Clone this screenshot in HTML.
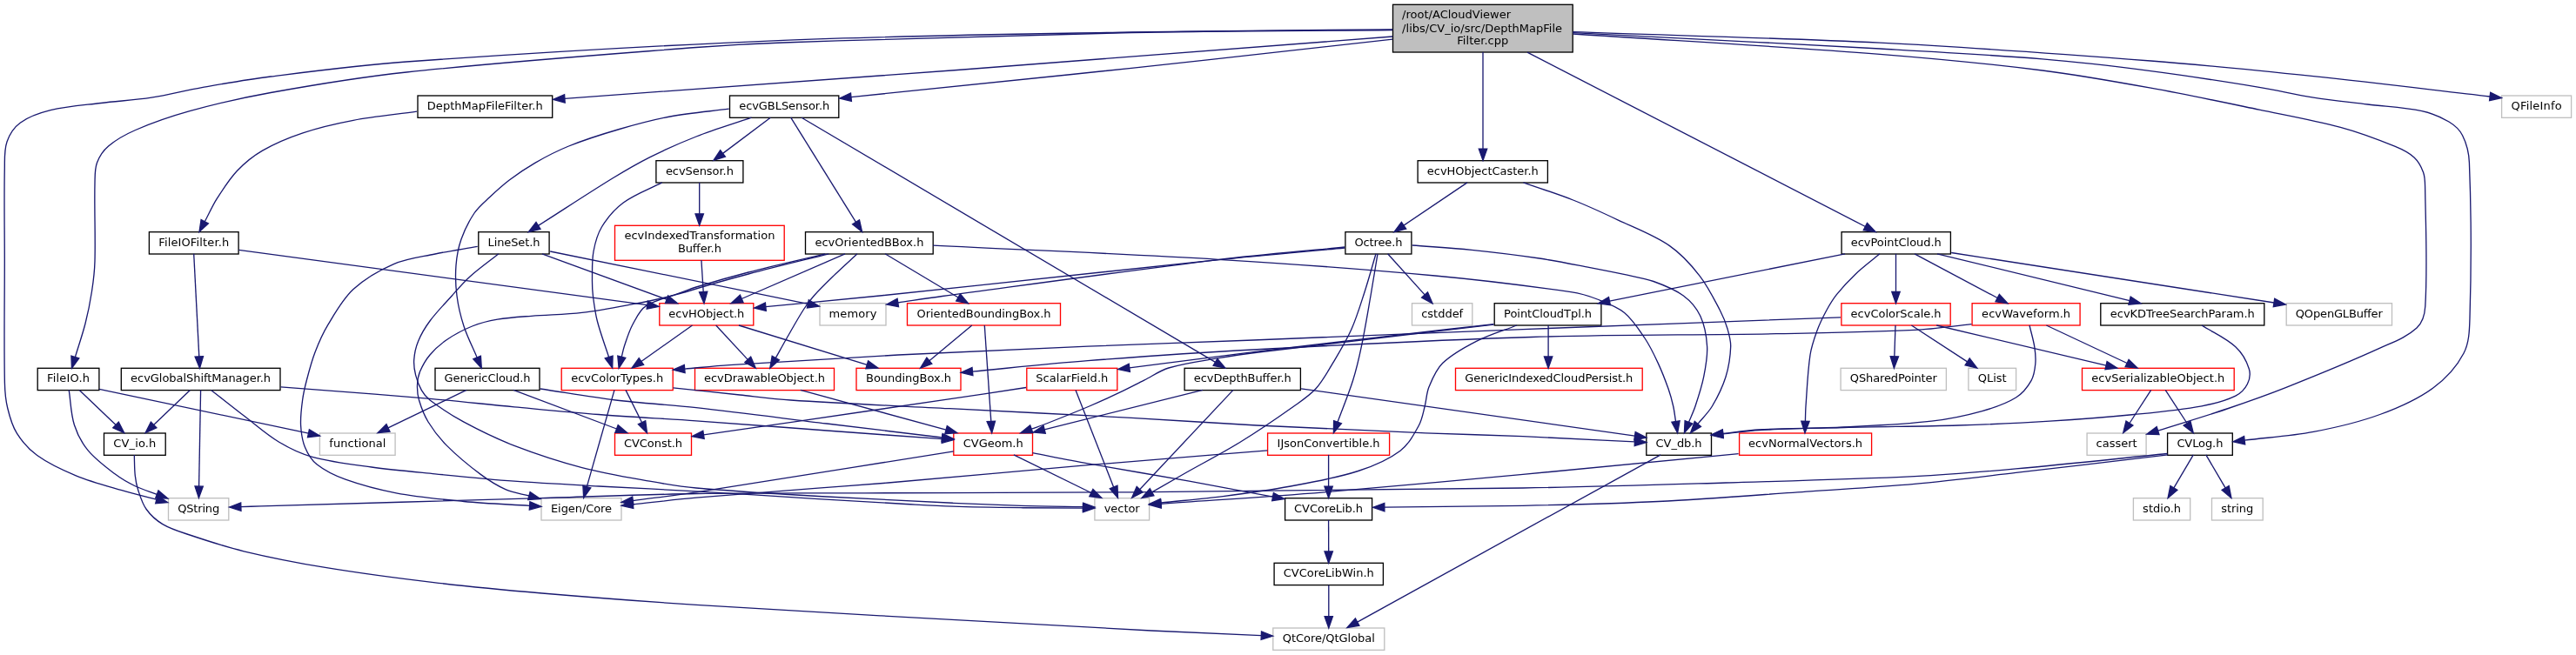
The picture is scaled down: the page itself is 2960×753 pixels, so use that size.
<!DOCTYPE html><html><head><meta charset="utf-8"><title>DepthMapFileFilter.cpp include graph</title><style>html,body{margin:0;padding:0;background:#fff}svg{display:block;will-change:transform}</style></head><body><svg width="2960" height="753" viewBox="0 0 2960 753">
<rect width="2960" height="753" fill="#fff"/>
<g stroke-width="1.33">
<rect x="1600.5" y="5.3" width="206.7" height="54.7" fill="#bfbfbf" stroke="#000"/>
<rect x="480.0" y="110.0" width="154.7" height="25.3" fill="#fff" stroke="#000"/>
<rect x="838.5" y="110.0" width="125.3" height="25.3" fill="#fff" stroke="#000"/>
<rect x="2874.6" y="110.0" width="80.0" height="25.3" fill="#fff" stroke="#bfbfbf"/>
<rect x="753.9" y="184.7" width="100.0" height="25.3" fill="#fff" stroke="#000"/>
<rect x="1629.1" y="184.7" width="149.3" height="25.3" fill="#fff" stroke="#000"/>
<rect x="171.4" y="266.7" width="102.7" height="25.3" fill="#fff" stroke="#000"/>
<rect x="549.8" y="266.7" width="81.3" height="25.3" fill="#fff" stroke="#000"/>
<rect x="706.5" y="259.3" width="194.7" height="40.0" fill="#fff" stroke="#f00"/>
<rect x="925.5" y="266.7" width="146.7" height="25.3" fill="#fff" stroke="#000"/>
<rect x="1545.9" y="266.7" width="76.0" height="25.3" fill="#fff" stroke="#000"/>
<rect x="2116.1" y="266.7" width="125.3" height="25.3" fill="#fff" stroke="#000"/>
<rect x="757.8" y="348.7" width="108.0" height="25.3" fill="#fff" stroke="#f00"/>
<rect x="942.0" y="348.7" width="76.0" height="25.3" fill="#fff" stroke="#bfbfbf"/>
<rect x="1042.5" y="348.7" width="176.0" height="25.3" fill="#fff" stroke="#f00"/>
<rect x="1622.5" y="348.7" width="69.3" height="25.3" fill="#fff" stroke="#bfbfbf"/>
<rect x="1717.2" y="348.7" width="122.7" height="25.3" fill="#fff" stroke="#000"/>
<rect x="2115.9" y="348.7" width="125.3" height="25.3" fill="#fff" stroke="#f00"/>
<rect x="2266.1" y="348.7" width="124.0" height="25.3" fill="#fff" stroke="#f00"/>
<rect x="2413.8" y="348.7" width="188.0" height="25.3" fill="#fff" stroke="#000"/>
<rect x="2627.2" y="348.7" width="121.3" height="25.3" fill="#fff" stroke="#bfbfbf"/>
<rect x="43.2" y="423.3" width="70.7" height="25.3" fill="#fff" stroke="#000"/>
<rect x="139.3" y="423.3" width="182.7" height="25.3" fill="#fff" stroke="#000"/>
<rect x="500.0" y="423.3" width="120.0" height="25.3" fill="#fff" stroke="#000"/>
<rect x="645.2" y="423.3" width="128.0" height="25.3" fill="#fff" stroke="#f00"/>
<rect x="798.5" y="423.3" width="160.0" height="25.3" fill="#fff" stroke="#f00"/>
<rect x="984.0" y="423.3" width="120.0" height="25.3" fill="#fff" stroke="#f00"/>
<rect x="1179.8" y="423.3" width="104.0" height="25.3" fill="#fff" stroke="#f00"/>
<rect x="1361.1" y="423.3" width="133.3" height="25.3" fill="#fff" stroke="#000"/>
<rect x="1672.5" y="423.3" width="214.7" height="25.3" fill="#fff" stroke="#f00"/>
<rect x="2115.1" y="423.3" width="121.3" height="25.3" fill="#fff" stroke="#bfbfbf"/>
<rect x="2261.9" y="423.3" width="54.7" height="25.3" fill="#fff" stroke="#bfbfbf"/>
<rect x="2392.5" y="423.3" width="174.7" height="25.3" fill="#fff" stroke="#f00"/>
<rect x="119.5" y="498.0" width="70.7" height="25.3" fill="#fff" stroke="#000"/>
<rect x="367.4" y="498.0" width="86.7" height="25.3" fill="#fff" stroke="#bfbfbf"/>
<rect x="706.5" y="498.0" width="88.0" height="25.3" fill="#fff" stroke="#f00"/>
<rect x="1095.8" y="498.0" width="90.7" height="25.3" fill="#fff" stroke="#f00"/>
<rect x="1456.6" y="498.0" width="140.0" height="25.3" fill="#fff" stroke="#f00"/>
<rect x="1891.8" y="498.0" width="74.7" height="25.3" fill="#fff" stroke="#000"/>
<rect x="1998.6" y="498.0" width="152.0" height="25.3" fill="#fff" stroke="#f00"/>
<rect x="2398.1" y="498.0" width="68.0" height="25.3" fill="#fff" stroke="#bfbfbf"/>
<rect x="2490.6" y="498.0" width="74.7" height="25.3" fill="#fff" stroke="#000"/>
<rect x="193.5" y="572.7" width="69.3" height="25.3" fill="#fff" stroke="#bfbfbf"/>
<rect x="622.0" y="572.7" width="92.0" height="25.3" fill="#fff" stroke="#bfbfbf"/>
<rect x="1257.9" y="572.7" width="62.7" height="25.3" fill="#fff" stroke="#bfbfbf"/>
<rect x="1476.6" y="572.7" width="100.0" height="25.3" fill="#fff" stroke="#000"/>
<rect x="2451.4" y="572.7" width="65.3" height="25.3" fill="#fff" stroke="#bfbfbf"/>
<rect x="2541.5" y="572.7" width="58.7" height="25.3" fill="#fff" stroke="#bfbfbf"/>
<rect x="1464.1" y="647.3" width="125.3" height="25.3" fill="#fff" stroke="#000"/>
<rect x="1462.8" y="722.0" width="128.0" height="25.3" fill="#fff" stroke="#bfbfbf"/>
</g>
<g font-family="'DejaVu Sans','Liberation Sans',sans-serif" font-size="13" fill="#000" text-anchor="middle">
<text x="1611.1" y="21" text-anchor="start" textLength="125.0">/root/ACloudViewer</text>
<text x="1611.1" y="37" text-anchor="start" textLength="184.0">/libs/CV_io/src/DepthMapFile</text>
<text x="1703.8" y="51" textLength="59.0">Filter.cpp</text>
<text x="557.3" y="126" textLength="133.0">DepthMapFileFilter.h</text>
<text x="901.2" y="126" textLength="104.0">ecvGBLSensor.h</text>
<text x="2914.6" y="126" textLength="58.0">QFileInfo</text>
<text x="803.9" y="201" textLength="78.0">ecvSensor.h</text>
<text x="1703.8" y="201" textLength="128.0">ecvHObjectCaster.h</text>
<text x="222.7" y="283" textLength="81.0">FileIOFilter.h</text>
<text x="590.5" y="283" textLength="60.0">LineSet.h</text>
<text x="803.9" y="275" textLength="173.0">ecvIndexedTransformation</text>
<text x="803.9" y="290" textLength="50.0">Buffer.h</text>
<text x="998.9" y="283" textLength="125.0">ecvOrientedBBox.h</text>
<text x="1583.9" y="283" textLength="55.0">Octree.h</text>
<text x="2178.8" y="283" textLength="104.0">ecvPointCloud.h</text>
<text x="811.8" y="365" textLength="87.0">ecvHObject.h</text>
<text x="980.0" y="365" textLength="55.0">memory</text>
<text x="1130.5" y="365" textLength="154.0">OrientedBoundingBox.h</text>
<text x="1657.2" y="365" textLength="48.0">cstddef</text>
<text x="1778.6" y="365" textLength="101.0">PointCloudTpl.h</text>
<text x="2178.6" y="365" textLength="104.0">ecvColorScale.h</text>
<text x="2328.1" y="365" textLength="102.0">ecvWaveform.h</text>
<text x="2507.8" y="365" textLength="166.0">ecvKDTreeSearchParam.h</text>
<text x="2687.8" y="365" textLength="100.0">QOpenGLBuffer</text>
<text x="78.5" y="439" textLength="49.0">FileIO.h</text>
<text x="230.6" y="439" textLength="161.0">ecvGlobalShiftManager.h</text>
<text x="560.0" y="439" textLength="99.0">GenericCloud.h</text>
<text x="709.2" y="439" textLength="106.0">ecvColorTypes.h</text>
<text x="878.5" y="439" textLength="139.0">ecvDrawableObject.h</text>
<text x="1044.0" y="439" textLength="98.0">BoundingBox.h</text>
<text x="1231.8" y="439" textLength="83.0">ScalarField.h</text>
<text x="1427.8" y="439" textLength="112.0">ecvDepthBuffer.h</text>
<text x="1779.8" y="439" textLength="193.0">GenericIndexedCloudPersist.h</text>
<text x="2175.8" y="439" textLength="100.0">QSharedPointer</text>
<text x="2289.2" y="439" textLength="33.0">QList</text>
<text x="2479.8" y="439" textLength="153.0">ecvSerializableObject.h</text>
<text x="154.8" y="514" textLength="49.0">CV_io.h</text>
<text x="410.8" y="514" textLength="65.0">functional</text>
<text x="750.5" y="514" textLength="67.0">CVConst.h</text>
<text x="1141.2" y="514" textLength="69.0">CVGeom.h</text>
<text x="1526.6" y="514" textLength="118.0">IJsonConvertible.h</text>
<text x="1929.1" y="514" textLength="53.0">CV_db.h</text>
<text x="2074.6" y="514" textLength="131.0">ecvNormalVectors.h</text>
<text x="2432.1" y="514" textLength="47.0">cassert</text>
<text x="2527.9" y="514" textLength="53.0">CVLog.h</text>
<text x="228.2" y="589" textLength="48.0">QString</text>
<text x="668.0" y="589" textLength="70.0">Eigen/Core</text>
<text x="1289.2" y="589" textLength="41.0">vector</text>
<text x="1526.6" y="589" textLength="79.0">CVCoreLib.h</text>
<text x="2484.1" y="589" textLength="44.0">stdio.h</text>
<text x="2570.8" y="589" textLength="37.0">string</text>
<text x="1526.8" y="663" textLength="104.0">CVCoreLibWin.h</text>
<text x="1526.8" y="738" textLength="106.0">QtCore/QtGlobal</text>
</g>
<g fill="none" stroke="#191970" stroke-width="1.33">
<path d="M1600.2,33.8C1500.1,34.9 1400.1,35.2 1300.0,37.0C1166.7,39.4 1033.3,40.9 900.0,46.3C755.6,52.2 611.2,60.8 467.0,71.0C414.8,74.7 362.9,81.5 311.0,88.0C284.5,91.3 258.3,96.0 232.0,100.6C212.6,104.0 193.5,109.2 174.0,112.2C154.8,115.2 135.3,116.1 116.0,118.5C96.6,120.9 77.0,122.1 58.0,126.7C45.8,129.7 33.4,133.8 23.2,141.2C16.0,146.4 10.9,154.6 8.0,163.0C4.7,172.6 5.5,183.2 5.3,193.4C4.6,228.9 5.3,264.5 5.3,300.0C5.3,346.7 4.5,393.3 5.4,440.0C5.6,449.7 6.4,459.5 8.7,469.0C11.1,479.1 13.9,489.4 19.4,498.2C25.5,507.9 33.4,516.8 42.7,523.5C56.3,533.3 71.8,540.4 87.3,546.8C104.3,553.8 122.3,558.5 140.0,563.7C153.2,567.6 166.6,570.8 179.9,574.3"/>
<path d="M1600.2,34.5C1500.1,35.5 1400.1,35.4 1300.0,37.5C1166.6,40.3 1033.3,44.5 900.0,49.0C866.6,50.1 833.3,51.9 800.0,54.5C688.9,63.2 577.8,71.2 467.0,83.0C414.7,88.6 362.8,97.2 311.0,106.5C279.7,112.1 248.6,119.2 218.0,127.7C196.8,133.6 175.9,140.8 155.7,149.5C144.6,154.3 133.8,160.2 124.6,168.0C118.7,173.0 114.2,179.8 111.5,187.0C108.8,194.2 109.2,202.3 109.0,210.0C108.3,240.0 109.8,270.0 109.0,300.0C108.7,311.7 107.3,323.4 105.5,335.0C103.6,347.4 101.1,359.8 98.0,372.0C94.7,385.0 90.2,397.6 86.4,410.4"/>
<path d="M1600.2,42.0C1433.5,54.8 1266.8,68.0 1100.0,80.5C949.7,91.8 799.3,102.4 648.9,113.3"/>
<path d="M1600.2,45.2C1500.1,56.2 1400.1,67.6 1300.0,78.3C1192.7,89.8 1085.3,100.5 978.0,111.6"/>
<path d="M1704.0,60.1L1704.0,171.1"/>
<path d="M1755.0,60.1L2143.4,260.5"/>
<path d="M1807.4,36.7C1924.9,40.9 2042.5,43.3 2160.0,49.2C2263.9,54.4 2367.7,62.0 2471.4,70.0C2533.8,74.8 2596.1,81.2 2658.3,87.7C2726.0,94.8 2793.5,103.2 2861.2,111.0"/>
<path d="M1807.4,37.7C1924.9,43.8 2042.5,49.4 2160.0,56.0C2222.3,59.5 2284.7,62.8 2346.9,67.9C2388.5,71.3 2430.0,76.2 2471.4,81.6C2513.0,87.0 2554.5,93.5 2596.0,100.3C2616.9,103.7 2637.4,108.8 2658.3,112.1C2679.0,115.4 2699.8,117.4 2720.6,120.0C2741.4,122.6 2762.4,123.3 2782.9,127.7C2793.8,130.0 2804.4,134.3 2814.0,140.0C2820.3,143.8 2826.3,149.1 2829.6,155.7C2834.4,165.3 2837.0,176.3 2837.4,187.0C2839.8,246.3 2839.8,305.7 2838.0,365.0C2837.6,379.0 2837.4,393.9 2830.9,406.3C2822.7,422.0 2810.1,435.6 2795.8,446.0C2777.4,459.4 2756.1,468.7 2734.7,476.5C2710.0,485.6 2684.2,491.5 2658.4,496.4C2632.2,501.4 2605.6,502.9 2579.1,506.2"/>
<path d="M1807.4,39.0C1924.9,46.8 2042.6,53.2 2160.0,62.3C2222.4,67.2 2284.8,73.2 2346.9,81.0C2388.6,86.2 2430.0,93.7 2471.4,101.2C2513.1,108.7 2554.5,117.5 2596.0,126.1C2627.2,132.6 2658.6,138.1 2689.4,146.4C2710.6,152.1 2731.3,159.9 2751.7,168.2C2759.6,171.4 2767.7,175.2 2774.0,181.0C2778.9,185.5 2782.2,191.8 2784.5,198.0C2786.5,203.4 2786.5,209.3 2786.6,215.0C2787.3,260.7 2789.5,306.4 2786.8,352.0C2786.3,360.9 2783.6,370.9 2777.0,377.0C2765.2,387.9 2749.3,393.5 2734.7,400.2C2699.3,416.4 2663.2,431.0 2627.0,445.4C2604.6,454.3 2581.8,462.3 2559.0,470.0C2532.7,478.9 2506.1,486.7 2479.6,495.1"/>
<path d="M479.0,128.2C454.7,131.6 430.1,133.8 406.0,138.3C386.4,142.0 366.9,146.5 348.0,152.8C332.0,158.1 316.2,164.7 301.6,173.1C290.9,179.3 281.1,187.3 272.6,196.3C263.6,205.8 256.5,217.1 249.4,228.2C244.0,236.7 240.0,246.0 235.3,254.8"/>
<path d="M274.4,287.4L743.8,350.6"/>
<path d="M222.7,291.8L228.8,409.9"/>
<path d="M218.4,448.4L176.6,488.5"/>
<path d="M230.6,448.4L228.6,559.1"/>
<path d="M242.6,448.4C255.5,458.5 268.4,468.8 281.4,478.8C294.3,488.7 306.4,499.7 320.3,508.0C332.4,515.3 345.4,521.7 359.0,525.4C381.2,531.4 404.2,533.9 427.0,537.0C451.2,540.3 475.6,542.4 500.0,544.8C530.3,547.8 560.6,550.9 591.0,553.2C623.3,555.6 655.7,557.2 688.0,559.0C725.3,561.1 762.7,562.6 800.0,564.8C846.7,567.5 893.3,570.8 940.0,573.6C971.0,575.5 1002.0,577.3 1033.0,579.0C1053.7,580.1 1074.3,581.5 1095.0,582.2C1121.0,583.1 1147.0,583.4 1173.0,583.7C1196.8,584.0 1220.6,584.0 1244.5,584.1"/>
<path d="M322.6,444.8C379.7,449.3 436.9,453.5 494.0,458.4C526.4,461.2 558.7,464.8 591.0,467.8C623.3,470.8 655.6,474.0 688.0,476.5C725.3,479.4 762.7,481.2 800.0,483.8C850.0,487.3 900.0,491.3 950.0,495.0C994.2,498.3 1038.3,501.4 1082.5,504.6"/>
<path d="M91.2,448.4L133.1,488.5"/>
<path d="M79.2,448.4C81.3,461.8 81.3,475.6 85.4,488.5C88.7,499.0 94.0,509.1 101.0,517.6C109.8,528.2 121.0,536.5 132.0,544.8C139.3,550.4 147.4,555.0 155.7,559.0C163.6,562.8 172.1,565.2 180.3,568.3"/>
<path d="M114.0,447.3L354.5,498.2"/>
<path d="M154.3,522.9C154.6,530.9 154.4,538.9 155.3,546.8C155.9,552.5 157.0,558.2 158.8,563.7C161.3,571.2 163.6,579.1 168.2,585.5C173.1,592.3 179.6,598.3 186.9,602.6C196.5,608.3 207.4,611.5 218.0,615.0C238.6,621.9 259.2,628.7 280.3,633.8C311.2,641.2 342.4,647.3 373.7,652.4C415.1,659.2 456.7,664.7 498.3,669.6C539.7,674.5 581.3,678.4 622.9,682.0C681.9,687.0 740.9,691.5 800.0,695.4C870.4,700.1 940.9,703.8 1011.4,707.8C1115.2,713.7 1219.0,719.6 1322.8,725.0C1364.9,727.2 1407.1,728.7 1449.3,730.6"/>
<path d="M837.7,125.2C815.1,128.1 792.4,129.9 770.0,134.0C750.3,137.6 730.9,142.9 711.7,148.5C692.1,154.2 672.5,160.4 653.5,168.0C640.1,173.4 627.2,180.1 614.7,187.3C604.6,193.1 594.9,199.7 585.6,206.8C577.4,213.0 569.8,220.0 562.3,227.0C556.2,232.7 549.6,238.1 545.0,245.0C538.8,254.3 533.7,264.4 530.0,275.0C526.6,284.6 524.8,294.8 524.0,305.0C523.1,316.6 523.5,328.4 525.0,340.0C526.5,351.9 529.3,363.6 533.0,375.0C537.0,387.4 543.1,398.9 548.1,410.9"/>
<path d="M863.5,135.2C842.3,142.5 820.9,148.9 800.0,157.0C782.0,164.0 764.3,172.0 747.0,180.6C732.2,188.0 717.9,196.4 703.8,205.0C675.1,222.6 647.0,241.3 618.5,259.4"/>
<path d="M885.3,135.2L830.6,176.4"/>
<path d="M908.7,135.2L983.5,255.3"/>
<path d="M921.1,135.2L1396.5,416.4"/>
<path d="M803.7,209.9L803.7,245.8"/>
<path d="M760.7,209.9C745.9,217.6 729.7,223.1 716.3,233.0C706.2,240.4 697.9,250.3 691.4,261.0C686.3,269.4 683.8,279.3 682.0,289.0C680.1,299.2 680.6,309.7 680.5,320.0C680.4,326.7 680.6,333.4 681.4,340.0C682.6,349.7 683.8,359.5 686.3,369.0C689.9,383.1 695.2,396.7 699.6,410.5"/>
<path d="M805.9,299.0L808.2,335.5"/>
<path d="M622.9,291.8L766.1,344.2"/>
<path d="M632.2,289.0L928.3,349.3"/>
<path d="M548.7,283.4C532.5,286.3 516.1,288.6 500.0,292.0C484.0,295.4 467.4,297.1 452.4,303.6C435.7,310.8 419.4,320.2 406.0,332.6C393.8,343.9 385.6,359.0 377.0,373.2C370.9,383.2 366.2,394.1 362.0,405.0C358.0,415.4 355.2,426.2 352.4,437.0C350.4,444.6 348.6,452.2 347.6,460.0C346.3,469.6 345.1,479.3 345.6,489.0C346.1,497.6 347.2,506.4 350.5,514.3C353.5,521.6 357.8,528.9 364.0,533.8C373.7,541.5 385.3,547.0 397.0,551.2C415.9,558.0 435.5,563.1 455.3,566.8C481.0,571.6 507.0,574.0 533.0,576.5C558.1,578.9 583.4,579.8 608.6,581.4"/>
<path d="M573.0,291.8C562.0,300.5 550.5,308.6 540.0,318.0C532.5,324.7 526.0,332.5 519.3,340.0C510.7,349.5 501.6,358.7 494.0,369.0C488.6,376.2 483.9,384.1 480.5,392.4C477.7,399.2 476.2,406.5 475.7,413.8C475.3,419.6 476.2,425.5 477.6,431.2C479.1,437.3 481.3,443.3 484.4,448.7C486.8,453.0 490.0,457.0 494.0,460.0C506.4,469.3 519.4,477.8 533.0,485.2C551.8,495.3 571.1,504.7 591.0,512.4C616.4,522.2 642.4,530.7 668.8,537.6C694.3,544.3 720.4,548.6 746.4,553.2C764.2,556.4 782.0,559.4 800.0,561.0C846.6,565.2 893.3,567.8 940.0,570.5C991.6,573.5 1043.3,575.9 1095.0,578.3C1121.0,579.5 1147.0,580.6 1173.0,581.4C1196.8,582.1 1220.6,582.3 1244.5,582.7"/>
<path d="M971.0,291.8L852.2,343.5"/>
<path d="M952.3,291.8C921.5,299.5 890.7,306.8 860.0,315.0C836.5,321.2 813.2,327.8 790.0,335.0C774.0,340.0 756.9,342.9 742.5,351.6C735.0,356.1 731.2,365.3 727.0,373.0C722.7,380.9 720.2,389.7 717.3,398.2C716.0,402.1 715.3,406.2 714.3,410.3"/>
<path d="M948.0,291.8C918.7,298.9 889.2,305.5 860.0,313.0C839.9,318.2 819.9,323.9 800.0,330.0C790.4,332.9 781.4,337.4 771.7,340.0C757.0,344.0 742.0,346.9 727.0,349.7C707.7,353.3 688.3,357.1 668.8,359.4C649.5,361.7 630.0,361.7 610.6,363.3C597.6,364.3 584.5,365.0 571.7,367.2C561.8,368.9 551.9,371.3 542.6,375.0C532.4,379.1 522.6,384.3 513.5,390.5C506.3,395.4 499.6,401.3 494.0,408.0C489.2,413.7 485.4,420.4 482.5,427.3C480.5,432.2 479.7,437.6 479.5,442.9C479.3,448.6 479.9,454.5 481.5,460.0C484.1,468.7 487.3,477.3 492.0,485.0C498.1,494.9 505.3,504.2 513.5,512.4C525.5,524.4 538.7,535.3 552.3,545.4C561.4,552.2 571.1,558.3 581.4,562.9C589.8,566.6 599.1,567.7 607.9,570.0"/>
<path d="M985.0,291.8C976.7,299.5 968.2,307.1 960.0,315.0C951.6,323.2 943.1,331.3 935.3,340.0C931.0,344.8 927.1,350.1 923.6,355.5C916.7,366.2 910.6,377.4 904.2,388.5C899.8,396.1 895.6,403.9 891.3,411.6"/>
<path d="M1017.0,291.8L1101.1,342.0"/>
<path d="M1072.2,282.2C1181.5,287.6 1290.8,291.7 1400.0,298.3C1483.1,303.3 1566.1,309.3 1649.0,317.0C1701.1,321.8 1753.1,328.2 1804.9,335.7C1815.3,337.2 1825.6,340.2 1835.4,344.0C1846.2,348.2 1857.5,352.1 1866.5,359.4C1876.1,367.3 1882.9,378.2 1889.8,388.5C1895.9,397.6 1900.7,407.6 1905.3,417.6C1909.7,427.1 1913.5,436.9 1917.0,446.8C1919.3,453.4 1921.2,460.2 1922.7,467.0C1924.0,472.8 1924.6,478.7 1925.5,484.5"/>
<path d="M795.5,374.0L736.9,415.5"/>
<path d="M822.7,374.0L859.2,413.4"/>
<path d="M848.9,374.0L996.3,419.3"/>
<path d="M1116.8,374.0L1067.9,414.7"/>
<path d="M1131.3,374.0L1138.8,484.4"/>
<path d="M719.0,448.4L737.6,485.8"/>
<path d="M706.0,448.4L674.3,559.6"/>
<path d="M773.4,445.8C798.9,448.5 824.5,451.3 850.0,454.0C869.6,456.1 889.1,458.7 908.7,460.0C969.4,464.0 1030.2,466.5 1091.0,469.7C1160.7,473.3 1230.3,476.6 1300.0,480.4C1348.0,483.0 1396.0,486.5 1444.0,489.0C1508.6,492.3 1573.3,495.1 1638.0,497.8C1675.3,499.3 1712.7,500.1 1750.0,501.7C1792.8,503.5 1835.6,505.8 1878.4,507.9"/>
<path d="M919.8,448.4L1087.0,494.2"/>
<path d="M536.0,448.4L446.0,491.9"/>
<path d="M590.0,448.4L708.5,493.0"/>
<path d="M620.7,447.0C649.7,451.3 678.5,456.5 707.6,460.0C738.3,463.7 769.3,465.3 800.0,468.7C850.1,474.3 900.0,480.9 950.0,487.0C994.2,492.4 1038.4,497.7 1082.6,503.0"/>
<path d="M1179.0,445.5C1149.3,450.0 1119.7,454.5 1090.0,458.9C1032.2,467.4 974.3,475.9 916.5,484.3C880.5,489.5 844.5,494.6 808.5,499.8"/>
<path d="M1236.0,448.4L1279.6,560.0"/>
<path d="M1382.0,448.4L1200.1,493.8"/>
<path d="M1417.0,448.4L1309.6,562.7"/>
<path d="M1495.1,446.8L1878.5,501.1"/>
<path d="M1095.8,518.8C997.2,534.5 898.7,550.6 800.0,565.8C775.8,569.5 751.5,572.3 727.3,575.6"/>
<path d="M1164.9,522.9L1253.8,566.5"/>
<path d="M1186.5,520.6C1207.7,524.7 1228.8,529.0 1250.0,532.8C1288.8,539.8 1327.7,546.2 1366.5,553.2C1398.6,559.0 1430.6,565.1 1462.6,571.1"/>
<path d="M1456.4,517.8C1387.6,523.4 1318.8,528.8 1250.0,534.7C1173.5,541.2 1097.2,548.5 1020.7,555.0C993.8,557.3 966.9,559.1 940.0,561.2C893.3,564.8 846.6,568.1 800.0,572.2C775.7,574.3 751.6,577.3 727.4,579.9"/>
<path d="M1526.6,522.9L1526.6,559.1"/>
<path d="M1526.6,598.0L1526.7,634.0"/>
<path d="M1526.8,672.7L1526.8,708.7"/>
<path d="M1908.2,522.9L1559.7,715.1"/>
<path d="M1686.0,209.9L1613.0,259.1"/>
<path d="M1750.4,209.9C1769.5,216.6 1788.8,222.6 1807.6,230.0C1825.4,237.0 1842.7,245.1 1860.0,253.3C1879.6,262.6 1900.3,270.1 1918.2,282.4C1931.8,291.7 1943.1,304.3 1953.2,317.3C1962.6,329.4 1969.4,343.4 1976.5,357.0C1980.0,363.7 1982.9,370.8 1985.0,378.0C1986.9,384.6 1988.9,391.4 1988.7,398.2C1988.3,410.0 1986.5,421.9 1983.0,433.2C1979.3,445.1 1973.7,456.3 1967.4,467.0C1962.9,474.5 1956.4,480.6 1950.9,487.3"/>
<path d="M1545.1,285.0C1496.7,289.5 1448.3,293.6 1400.0,298.6C1270.3,312.0 1140.7,326.5 1011.0,340.0C967.3,344.5 923.6,348.5 879.9,352.7"/>
<path d="M1545.1,284.0C1496.7,288.9 1448.3,292.7 1400.0,298.6C1294.1,311.5 1188.5,326.3 1082.8,340.5C1065.8,342.8 1048.8,345.5 1031.8,348.0"/>
<path d="M1594.6,291.8L1637.1,338.9"/>
<path d="M1622.7,282.0C1645.5,283.8 1668.3,285.0 1691.0,287.3C1717.0,290.0 1743.0,293.1 1768.8,297.0C1788.3,299.9 1807.6,303.9 1827.0,307.6C1840.0,310.1 1853.0,312.6 1866.0,315.4C1877.4,317.9 1889.0,319.6 1900.0,323.5C1912.0,327.8 1924.2,332.4 1934.4,340.0C1942.5,346.0 1949.5,354.1 1953.8,363.3C1958.8,374.1 1960.9,386.3 1961.6,398.2C1962.3,409.9 1960.0,421.7 1957.7,433.2C1955.4,444.7 1951.7,455.9 1948.0,467.0C1945.9,473.3 1943.0,479.2 1940.5,485.4"/>
<path d="M1581.0,291.8C1576.7,306.4 1572.7,321.2 1568.0,335.7C1563.3,350.2 1559.0,364.9 1552.8,378.8C1546.8,392.3 1539.0,404.9 1531.4,417.6C1525.4,427.6 1519.8,438.1 1512.0,446.8C1504.8,454.8 1495.6,460.8 1486.8,467.0C1466.5,481.4 1445.9,495.5 1424.7,508.5C1403.6,521.5 1381.5,532.8 1360.0,545.0C1347.8,551.9 1335.7,558.9 1323.6,565.8"/>
<path d="M1583.0,291.8C1580.3,307.9 1577.8,324.0 1575.0,340.0C1571.6,359.4 1568.4,378.9 1564.4,398.2C1561.7,411.2 1558.7,424.3 1554.7,437.0C1549.6,453.3 1542.9,469.1 1537.0,485.2"/>
<path d="M2120.0,291.8L1849.5,346.2"/>
<path d="M2160.0,291.8C2150.6,299.7 2140.7,307.0 2131.8,315.4C2124.1,322.6 2117.0,330.4 2110.4,338.7C2105.9,344.4 2102.2,350.6 2098.7,357.0C2094.7,364.4 2090.9,372.1 2088.0,380.0C2084.7,389.1 2081.4,398.4 2080.0,408.0C2077.1,427.5 2076.4,447.3 2075.0,467.0C2074.6,472.8 2074.6,478.6 2074.4,484.4"/>
<path d="M2178.5,291.8L2178.5,335.5"/>
<path d="M2200.0,291.8L2295.2,342.5"/>
<path d="M2226.0,291.8L2447.0,345.6"/>
<path d="M2242.2,290.5L2613.0,348.0"/>
<path d="M1716.4,372.6C1683.9,376.3 1651.3,379.9 1618.8,383.7C1562.5,390.2 1506.2,396.5 1450.0,403.4C1399.2,409.6 1348.5,416.4 1297.8,422.9"/>
<path d="M1716.4,373.2C1683.9,377.0 1651.3,380.7 1618.8,384.5C1562.5,391.1 1506.2,397.5 1450.0,404.5C1433.0,406.6 1415.9,409.0 1399.0,411.9C1380.2,415.1 1361.1,417.5 1342.8,423.0C1332.8,426.0 1324.1,432.4 1314.7,437.1C1305.3,441.8 1296.1,446.7 1286.6,451.2C1275.1,456.7 1263.5,462.0 1251.7,467.0C1235.4,473.9 1218.9,480.5 1202.4,487.0C1196.7,489.2 1191.0,491.1 1185.2,493.2"/>
<path d="M1779.1,374.0L1779.1,409.9"/>
<path d="M1743.0,374.0C1727.5,380.1 1711.3,384.8 1696.4,392.4C1682.7,399.4 1668.7,406.9 1657.6,417.6C1650.1,424.9 1646.0,435.1 1642.0,444.8C1639.1,451.8 1639.1,459.7 1637.2,467.0C1635.3,474.4 1634.1,482.3 1630.4,489.0C1624.6,499.6 1618.6,510.9 1609.0,518.2C1594.7,529.0 1577.6,536.0 1560.6,541.5C1535.4,549.7 1509.1,554.1 1483.0,559.0C1457.3,563.8 1431.3,567.3 1405.3,570.6C1381.6,573.6 1357.7,575.5 1334.0,578.0"/>
<path d="M2115.0,364.8C1993.3,369.4 1871.7,373.9 1750.0,378.6C1646.7,382.6 1543.3,386.9 1440.0,391.0C1376.7,393.5 1313.3,395.6 1250.0,398.2C1177.4,401.2 1104.8,404.2 1032.3,408.0C967.6,411.4 902.9,415.4 838.2,419.6C821.0,420.7 803.9,422.6 786.7,424.1"/>
<path d="M2178.0,374.0L2176.8,409.9"/>
<path d="M2196.4,374.0L2260.6,415.9"/>
<path d="M2225.2,374.0L2420.0,420.1"/>
<path d="M2265.6,372.6C2243.7,374.9 2222.0,378.3 2200.0,379.4C2147.0,382.0 2094.0,382.7 2041.0,383.7C1947.3,385.4 1853.6,384.6 1760.0,387.5C1653.3,390.7 1546.6,396.3 1440.0,402.0C1376.6,405.4 1313.3,409.8 1250.0,414.7C1205.8,418.1 1161.6,422.9 1117.5,427.1"/>
<path d="M2351.4,374.0L2444.1,417.5"/>
<path d="M2332.0,374.0C2333.9,382.3 2336.5,390.4 2337.8,398.8C2338.8,405.2 2339.4,411.8 2338.8,418.2C2338.2,424.8 2337.3,431.8 2334.0,437.6C2329.7,445.2 2323.9,452.4 2316.5,457.0C2304.6,464.4 2291.1,468.8 2277.6,472.6C2258.6,477.9 2239.1,481.9 2219.4,484.2C2186.0,488.1 2152.4,489.3 2118.8,491.0C2086.5,492.6 2054.0,492.3 2021.7,494.0C2007.7,494.7 1993.7,496.9 1979.8,498.4"/>
<path d="M2530.0,374.0C2542.9,382.3 2557.5,388.4 2568.8,398.8C2576.1,405.5 2581.3,414.6 2584.3,424.0C2586.1,429.6 2585.0,436.2 2582.4,441.5C2579.5,447.2 2574.6,452.3 2568.8,455.1C2556.6,461.0 2543.3,464.4 2530.0,466.8C2504.3,471.5 2478.3,473.9 2452.3,476.5C2420.0,479.7 2387.7,482.2 2355.3,484.2C2320.2,486.4 2285.1,487.9 2250.0,489.0C2206.3,490.3 2162.5,490.4 2118.8,491.5C2086.4,492.3 2054.0,492.8 2021.7,494.5C2007.7,495.2 1993.7,497.4 1979.8,498.9"/>
<path d="M2471.7,448.4L2447.0,486.5"/>
<path d="M2488.2,448.4L2513.0,486.5"/>
<path d="M1997.6,521.7C1915.1,529.6 1832.6,537.7 1750.0,545.4C1673.9,552.4 1597.9,559.6 1521.7,565.8C1459.2,570.9 1396.6,574.8 1334.0,579.3"/>
<path d="M2520.3,522.9L2497.9,560.9"/>
<path d="M2534.8,522.9L2557.1,560.9"/>
<path d="M2490.4,521.5C2432.4,527.3 2374.5,533.7 2316.5,538.9C2277.7,542.4 2238.9,545.7 2200.0,547.6C2127.7,551.1 2055.3,552.8 1983.0,555.0C1905.3,557.3 1827.7,559.8 1750.0,561.0C1600.0,563.4 1450.0,564.6 1300.0,565.8C1198.0,566.6 1096.0,566.5 994.0,566.8C929.3,567.0 864.7,566.5 800.0,567.5C740.6,568.4 681.3,570.9 622.0,572.6C514.7,575.7 407.3,578.8 300.0,581.9C292.3,582.1 284.5,582.4 276.8,582.6"/>
<path d="M2491.0,522.9C2432.8,529.7 2374.7,536.7 2316.5,543.4C2277.7,547.9 2238.9,552.9 2200.0,556.4C2160.1,560.0 2120.0,562.1 2080.0,564.8C2021.8,568.8 1963.6,573.6 1905.3,576.5C1853.6,579.1 1801.8,580.2 1750.0,581.3C1697.0,582.4 1643.9,582.5 1590.8,583.1"/>
</g>
<g fill="#191970" stroke="#191970" stroke-width="1.33"><polygon points="192.8,577.7 178.7,578.8 181.1,569.8"/><polygon points="82.5,423.2 81.9,409.1 90.8,411.8"/><polygon points="635.6,114.3 648.6,108.7 649.2,118.0"/><polygon points="964.7,113.0 977.5,107.0 978.4,116.3"/><polygon points="1704.0,184.4 1699.3,171.1 1708.7,171.1"/><polygon points="2155.2,266.6 2141.2,264.6 2145.5,256.3"/><polygon points="2874.4,112.5 2860.6,115.6 2861.7,106.3"/><polygon points="2565.9,507.8 2578.6,501.5 2579.7,510.8"/><polygon points="2466.9,499.1 2478.2,490.6 2481.0,499.5"/><polygon points="229.0,266.6 231.1,252.6 239.4,257.0"/><polygon points="757.0,352.4 743.2,355.2 744.4,346.0"/><polygon points="229.5,423.2 224.1,410.1 233.5,409.6"/><polygon points="167.0,497.7 173.4,485.1 179.9,491.8"/><polygon points="228.4,572.4 224.0,559.0 233.3,559.2"/><polygon points="1257.8,584.2 1244.4,588.8 1244.5,579.5"/><polygon points="1095.8,505.6 1082.2,509.3 1082.8,500.0"/><polygon points="142.7,497.7 129.8,491.9 136.3,485.1"/><polygon points="192.8,573.0 178.7,572.7 182.0,563.9"/><polygon points="367.5,501.0 353.5,502.8 355.4,493.7"/><polygon points="1462.6,731.2 1449.1,735.3 1449.5,725.9"/><polygon points="553.3,423.2 543.8,412.7 552.4,409.1"/><polygon points="607.3,266.6 616.0,255.5 621.0,263.4"/><polygon points="819.9,184.4 827.7,172.7 833.4,180.1"/><polygon points="990.6,266.6 979.6,257.8 987.5,252.8"/><polygon points="1408.0,423.2 1394.1,420.4 1398.9,412.4"/><polygon points="803.7,259.1 799.0,245.8 808.4,245.8"/><polygon points="703.7,423.2 695.2,411.9 704.1,409.1"/><polygon points="809.0,348.8 803.5,335.8 812.8,335.2"/><polygon points="778.6,348.8 764.5,348.6 767.7,339.8"/><polygon points="941.4,352.0 927.4,353.9 929.3,344.8"/><polygon points="621.9,582.3 608.3,586.1 608.9,576.8"/><polygon points="1257.8,583.0 1244.4,587.4 1244.6,578.1"/><polygon points="840.0,348.8 850.4,339.2 854.1,347.8"/><polygon points="711.1,423.2 709.8,409.1 718.8,411.4"/><polygon points="620.8,573.5 606.7,574.5 609.1,565.5"/><polygon points="884.8,423.2 887.2,409.3 895.4,413.8"/><polygon points="1112.5,348.8 1098.7,346.0 1103.4,338.0"/><polygon points="1927.6,497.7 1920.9,485.3 1930.1,483.8"/><polygon points="726.0,423.2 734.2,411.7 739.6,419.3"/><polygon points="868.3,423.2 855.8,416.6 862.7,410.2"/><polygon points="1009.0,423.2 994.9,423.7 997.6,414.8"/><polygon points="1057.6,423.2 1064.9,411.1 1070.8,418.3"/><polygon points="1139.7,497.7 1134.1,484.7 1143.5,484.1"/><polygon points="743.5,497.7 733.4,487.8 741.7,483.7"/><polygon points="670.7,572.4 669.9,558.3 678.8,560.9"/><polygon points="1891.7,508.5 1878.2,512.5 1878.6,503.2"/><polygon points="1099.9,497.7 1085.8,498.7 1088.3,489.7"/><polygon points="434.0,497.7 444.0,487.7 448.0,496.1"/><polygon points="721.0,497.7 706.9,497.4 710.2,488.6"/><polygon points="1095.8,504.6 1082.0,507.6 1083.1,498.4"/><polygon points="795.3,501.7 807.8,495.2 809.2,504.4"/><polygon points="1284.5,572.4 1275.3,561.7 1284.0,558.3"/><polygon points="1187.2,497.0 1199.0,489.2 1201.3,498.3"/><polygon points="1300.5,572.4 1306.2,559.5 1313.0,565.9"/><polygon points="1891.7,503.0 1877.8,505.8 1879.2,496.5"/><polygon points="714.1,577.4 726.7,571.0 727.9,580.2"/><polygon points="1265.8,572.4 1251.8,570.7 1255.9,562.3"/><polygon points="1475.7,573.5 1461.7,575.7 1463.4,566.5"/><polygon points="714.1,581.3 726.9,575.3 727.8,584.5"/><polygon points="1526.6,572.4 1521.9,559.1 1531.3,559.1"/><polygon points="1526.7,647.3 1522.0,634.0 1531.4,634.0"/><polygon points="1526.8,722.0 1522.1,708.7 1531.4,708.7"/><polygon points="1548.0,721.5 1557.4,711.0 1561.9,719.2"/><polygon points="1602.0,266.6 1610.4,255.3 1615.7,263.0"/><polygon points="1942.5,497.7 1947.3,484.4 1954.5,490.3"/><polygon points="866.6,354.0 879.4,348.1 880.3,357.4"/><polygon points="1018.6,350.0 1031.1,343.4 1032.5,352.7"/><polygon points="1646.0,348.8 1633.6,342.0 1640.5,335.8"/><polygon points="1935.4,497.7 1936.1,483.6 1944.8,487.1"/><polygon points="1312.0,572.4 1321.3,561.7 1325.9,569.8"/><polygon points="1532.4,497.7 1532.6,483.6 1541.4,486.8"/><polygon points="1836.4,348.8 1848.5,341.6 1850.4,350.8"/><polygon points="2074.0,497.7 2069.8,484.2 2079.1,484.5"/><polygon points="2178.5,348.8 2173.8,335.5 2183.2,335.5"/><polygon points="2307.0,348.8 2293.0,346.7 2297.4,338.4"/><polygon points="2460.0,348.8 2445.9,350.2 2448.2,341.1"/><polygon points="2626.2,350.0 2612.3,352.6 2613.7,343.3"/><polygon points="1284.6,424.6 1297.2,418.3 1298.4,427.5"/><polygon points="1172.7,497.7 1183.7,488.8 1186.8,497.6"/><polygon points="1779.1,423.2 1774.4,409.9 1783.8,409.9"/><polygon points="1320.7,579.4 1333.5,573.4 1334.4,582.7"/><polygon points="773.4,425.2 786.3,419.4 787.1,428.7"/><polygon points="2176.4,423.2 2172.2,409.7 2181.5,410.0"/><polygon points="2271.8,423.2 2258.1,419.8 2263.2,412.0"/><polygon points="2433.0,423.2 2419.0,424.7 2421.1,415.6"/><polygon points="1104.2,428.3 1117.0,422.4 1117.9,431.7"/><polygon points="2456.2,423.2 2442.1,421.8 2446.1,413.3"/><polygon points="1966.5,499.8 1979.3,493.8 1980.2,503.1"/><polygon points="1966.5,500.3 1979.3,494.3 1980.2,503.6"/><polygon points="2439.7,497.7 2443.0,484.0 2450.9,489.1"/><polygon points="2520.3,497.7 2509.1,489.1 2516.9,484.0"/><polygon points="1320.7,580.3 1333.7,574.7 1334.3,584.0"/><polygon points="2491.1,572.4 2493.9,558.5 2501.9,563.3"/><polygon points="2563.9,572.4 2553.1,563.3 2561.2,558.5"/><polygon points="263.5,583.0 276.7,577.9 277.0,587.3"/><polygon points="1577.5,583.3 1590.8,578.5 1590.9,587.8"/></g>
</svg></body></html>
